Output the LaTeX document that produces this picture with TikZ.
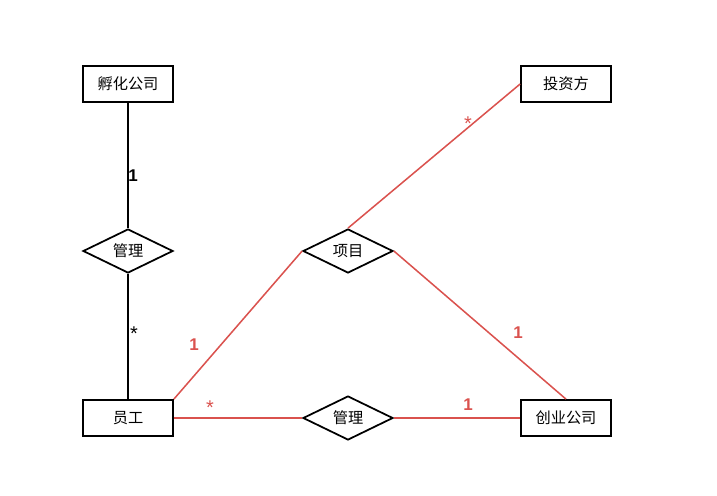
\documentclass[tikz,border=0pt]{standalone}
\usepackage{fontspec}
\usepackage{tikz}
\usetikzlibrary{shapes.geometric}
\newfontfamily\cjk{Noto Sans CJK SC}
\newfontfamily\lbl{Liberation Sans}
\definecolor{LinkRed}{RGB}{218,82,78}
\tikzset{
  entity/.style={rectangle,draw=black,fill=white,line width=1.5pt,minimum width=2.7cm,
    minimum height=1.08cm,inner sep=0pt,font=\cjk\fontsize{13}{15}\selectfont},
  rel/.style={diamond,draw=black,fill=white,line width=1.5pt,minimum width=2.7cm,
    minimum height=1.32cm,inner sep=0pt,aspect=2,font=\cjk\fontsize{13}{15}\selectfont},
  plain/.style={draw=black,line width=1.5pt},
  link/.style={draw=LinkRed,line width=1.3pt},
  card/.style={inner sep=0pt,font=\lbl\fontsize{14.5}{16}\selectfont\bfseries},
  star/.style={inner sep=0pt,font=\lbl\fontsize{17}{19}\selectfont},
}
\begin{document}
\begin{tikzpicture}[x=0.03cm,y=-0.03cm]
\useasboundingbox (0,0) rectangle (717,495);
% entities
\node[entity] (incub) at (128,84) {孵化公司};
\node[entity] (inv) at (566,84) {投资方};
\node[entity] (emp) at (128,418) {员工};
\node[entity] (start) at (566,418) {创业公司};
% relations
\node[rel] (mgrA) at (128,251) {管理};
\node[rel] (proj) at (348,251) {项目};
\node[rel] (mgrB) at (348,418) {管理};
% connectors
\draw[plain] (incub.south) -- (mgrA.north);
\draw[plain] (mgrA.south) -- (emp.north);
\draw[link] (emp.north east) -- (proj.west);
\draw[link] (proj.north) -- (inv.west);
\draw[link] (proj.east) -- (start.north);
\draw[link] (emp.east) -- (mgrB.west);
\draw[link] (mgrB.east) -- (start.west);
% cardinalities
\node[card] (cA) at (133,176) {1};
\node[star] (sA) at (134,334) {*};
\node[card,text=LinkRed] (cB) at (194,345) {1};
\node[star,text=LinkRed] (sB) at (468,124) {*};
\node[card,text=LinkRed] (cC) at (518,333) {1};
\node[star,text=LinkRed] (sC) at (210,408) {*};
\node[card,text=LinkRed] (cD) at (468,405) {1};
\end{tikzpicture}
\end{document}
